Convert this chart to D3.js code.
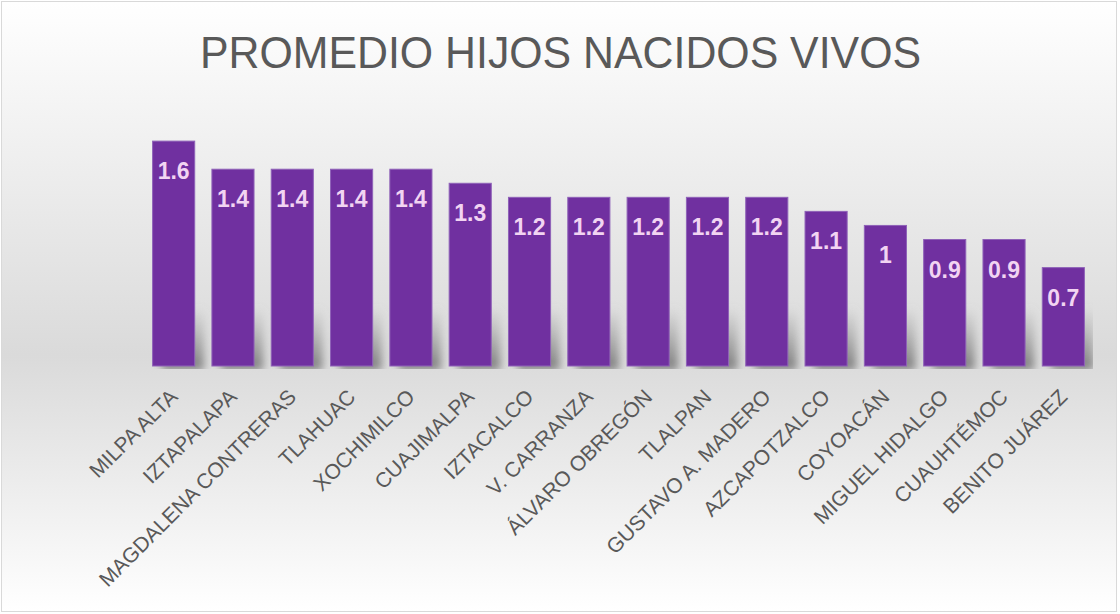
<!DOCTYPE html>
<html>
<head>
<meta charset="utf-8">
<script src="https://cdn.jsdelivr.net/npm/d3@7"></script>
<style>
  body { margin: 0; background: #fff; }
  svg { display: block; }
</style>
</head>
<body>
<div id="chart"></div>
<script>
const alcaldias = ["MILPA ALTA", "IZTAPALAPA", "MAGDALENA CONTRERAS", "TLAHUAC", "XOCHIMILCO",
    "CUAJIMALPA", "IZTACALCO", "V. CARRANZA", "ÁLVARO OBREGÓN", "TLALPAN",
    "GUSTAVO A. MADERO", "AZCAPOTZALCO", "COYOACÁN", "MIGUEL HIDALGO", "CUAUHTÉMOC", "BENITO JUÁREZ"];
const promedio = [1.6, 1.4, 1.4, 1.4, 1.4, 1.3, 1.2, 1.2, 1.2, 1.2, 1.2, 1.1, 1, 0.9, 0.9, 0.7];

const data = alcaldias.map((d, i) => ({name: d, value: promedio[i]}));

const W = 1120, H = 614;
const margin = {top: 113, right: 27, bottom: 248, left: 144};
const width = W - margin.left - margin.right,
    height = H - margin.top - margin.bottom;

const svg = d3.select("#chart")
    .append("svg")
        .attr("width", W)
        .attr("height", H);

const defs = svg.append("defs");
const bg = defs.append("linearGradient")
    .attr("id", "bg").attr("x1", 0).attr("x2", 0).attr("y1", 0).attr("y2", 1);
bg.append("stop").attr("offset", "0%").attr("stop-color", "#ffffff");
bg.append("stop").attr("offset", "58%").attr("stop-color", "#dadada");
bg.append("stop").attr("offset", "100%").attr("stop-color", "#ffffff");

const sombra = defs.append("linearGradient")
    .attr("id", "sombra").attr("x1", 0).attr("x2", 0).attr("y1", 0).attr("y2", 1);
sombra.append("stop").attr("offset", "0%").attr("stop-color", "#909090").attr("stop-opacity", 0);
sombra.append("stop").attr("offset", "100%").attr("stop-color", "#7a7a7a").attr("stop-opacity", 1);

defs.append("filter").attr("id", "blur")
    .attr("x", "-50%").attr("y", "-50%").attr("width", "200%").attr("height", "200%")
    .append("feGaussianBlur").attr("stdDeviation", 4);

defs.append("clipPath").attr("id", "plotclip")
    .append("rect")
        .attr("x", 0).attr("y", 0)
        .attr("width", width).attr("height", height + 3);

svg.append("rect")
    .attr("x", 1.5).attr("y", 1.5)
    .attr("width", W - 5).attr("height", H - 4)
    .attr("fill", "url(#bg)")
    .attr("stroke", "#d9d9d9");

svg.append("text")
    .attr("x", 200)
    .attr("y", 68)
    .attr("textLength", 721)
    .attr("lengthAdjust", "spacingAndGlyphs")
    .style("font-family", "Liberation Sans, Arial, sans-serif")
    .style("font-size", "44px")
    .style("fill", "#595959")
    .text("PROMEDIO HIJOS NACIDOS VIVOS");

const g = svg.append("g")
    .attr("transform", "translate(" + margin.left + "," + margin.top + ")");

const x = d3.scaleBand()
    .domain(alcaldias)
    .range([0, width])
    .paddingInner(0.29)
    .paddingOuter(0.145);

const y = d3.scaleLinear()
    .domain([0, 1.8])
    .range([height, 0]);

// sombras de las barras
g.append("g")
    .attr("clip-path", "url(#plotclip)")
  .selectAll(".shadow")
    .data(data)
    .join("rect")
        .attr("class", "shadow")
        .attr("x", d => x(d.name) + 9)
        .attr("y", y(0.42))
        .attr("width", x.bandwidth())
        .attr("height", height - y(0.42) + 4)
        .attr("fill", "url(#sombra)")
        .attr("filter", "url(#blur)");

g.selectAll(".bar")
    .data(data)
    .join("rect")
        .attr("class", "bar")
        .attr("x", d => x(d.name))
        .attr("y", d => y(d.value))
        .attr("width", x.bandwidth())
        .attr("height", d => height - y(d.value))
        .attr("fill", "#7030a0")
        .attr("stroke", "#8f62b8")
        .attr("stroke-width", 1);

g.selectAll(".value")
    .data(data)
    .join("text")
        .attr("class", "value")
        .attr("x", d => x(d.name) + x.bandwidth() / 2)
        .attr("y", d => y(d.value) + 38)
        .attr("text-anchor", "middle")
        .style("font-family", "Liberation Sans, Arial, sans-serif")
        .style("font-weight", "bold")
        .style("font-size", "23px")
        .style("fill", "#f2d4f2")
        .text(d => d.value);

const xAxis = g.append("g")
    .attr("transform", "translate(0," + height + ")")
    .call(d3.axisBottom(x).tickSize(0).tickPadding(0));
xAxis.select(".domain").remove();
xAxis.selectAll(".tick text")
    .attr("transform", "translate(0,27) rotate(-45)")
    .attr("dy", "0.35em")
    .attr("text-anchor", "end")
    .style("font-family", "Liberation Sans, Arial, sans-serif")
    .style("font-size", "21px")
    .style("fill", "#595959");
</script>
</body>
</html>
